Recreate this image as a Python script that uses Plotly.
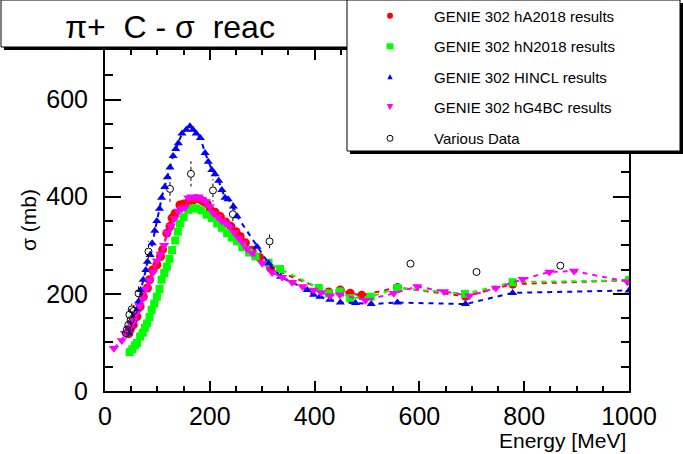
import plotly.graph_objects as go

# ------------------------------------------------------------
# pi+ C reaction cross section: GENIE 302 models vs data

# GENIE 302 hA2018
e_ha = [45, 48, 54, 61, 67, 73, 81, 85, 91, 99, 106, 110, 118, 124, 128, 134, 143, 150,
        160, 168, 175, 182, 188, 195, 201, 210, 220, 230, 240, 250, 258, 268, 280, 295,
        316, 427, 449, 468, 490, 558, 688, 778, 1000]
s_ha = [118, 126, 136, 153, 174, 194, 212, 229, 249, 260, 277, 291, 325, 339, 356, 366, 383, 385,
        390, 393, 396, 394, 390, 385, 373, 368, 359, 348, 339, 328, 318, 305, 290, 275,
        253, 204, 208, 201, 197, 213, 195, 220, 228]

# GENIE 302 hN2018
e_hn = [47, 52, 57, 61, 67, 72, 76, 80, 85, 89, 94, 99, 104, 108, 113, 118, 123, 128, 134,
        139, 143, 150, 159, 167, 175, 184, 194, 204, 214, 223, 233, 242, 252, 262, 275, 287,
        312, 334, 408, 427, 448, 468, 507, 558, 687, 778, 1000]
s_hn = [80, 86, 94, 99, 112, 120, 130, 139, 152, 167, 180, 194, 210, 229, 243, 256, 272, 290, 310,
        328, 345, 358, 373, 376, 376, 372, 363, 356, 345, 336, 325, 316, 308, 296, 285, 277,
        264, 251, 212, 201, 205, 191, 194, 212, 200, 224, 228]

# GENIE 302 HINCL
e_incl = [45, 48, 51, 54, 58, 61, 64, 68, 73, 78, 81, 86, 90, 95, 99, 104, 108, 114, 119, 124,
          130, 135, 140, 147, 155, 162, 168, 174, 182, 191, 197, 204, 210, 217, 223, 229, 235,
          245, 252, 290, 312, 335, 386, 398, 410, 429, 449, 478, 508, 558, 688, 778, 1000]
s_incl = [119, 129, 139, 146, 158, 167, 184, 208, 229, 249, 266, 280, 304, 330, 350, 375, 398, 420, 440, 460,
          484, 498, 510, 530, 538, 545, 538, 530, 521, 490, 472, 455, 446, 433, 414, 398, 395,
          380, 360, 297, 263, 235, 208, 198, 194, 188, 182, 181, 179, 182, 179, 202, 207]

# GENIE 302 hG4BC
e_g4 = [17, 32, 38, 45, 50, 55, 60, 66, 72, 78, 85, 92, 99, 106, 113, 119, 126, 133, 140, 147,
        153, 159, 165, 172, 178, 185, 192, 200, 207, 215, 223, 231, 239, 247, 255, 263, 271,
        281, 300, 319, 338, 357, 377, 398, 412, 429, 448, 497, 551, 596, 647, 695, 746, 797,
        848, 895, 997]
s_g4 = [88, 104, 119, 128, 137, 146, 160, 175, 190, 210, 228, 245, 268, 282, 300, 326, 340, 355, 370, 375,
        378, 398, 400, 398, 400, 395, 390, 380, 366, 358, 350, 345, 339, 326, 315, 305, 293,
        284, 263, 244, 234, 224, 215, 208, 203, 196, 198, 187, 201, 215, 205, 196, 212, 230,
        245, 247, 225]

# Various data (with errors)
e_data = [40, 41.5, 44.6, 46.5, 49, 51, 55, 64, 83, 124, 164, 206, 244, 314, 583, 709, 869]
s_data = [119, 126, 136, 157, 146, 168, 165, 201, 287, 416, 447, 413, 364, 308, 262, 245, 258]
err_data = [10, 10, 10, 12, 10, 12, 12, 16, 22, 27, 26, 23, 24, 18, 0, 0, 0]

legend_labels = ["GENIE 302 hA2018 results", "GENIE 302 hN2018 results",
                 "GENIE 302 HINCL results", "GENIE 302 hG4BC results", "Various Data"]

FONT = "Liberation Sans, Arial, Helvetica, sans-serif"

# frame geometry in pixels (for boxes drawn outside the plot)
L, R, T, B = 105, 629, 50, 391


def px(x):
    return (x - L) / (R - L)


def py(y):
    return (B - y) / (B - T)


fig = go.Figure()

series = [
    (e_ha, s_ha, "#ff0000", "circle", 9),
    (e_hn, s_hn, "#00ff00", "square", 8),
    (e_incl, s_incl, "#0000ff", "triangle-up", 8),
    (e_g4, s_g4, "#ff00ff", "triangle-down", 9),
]
for xs, ys, col, sym, sz in series:
    fig.add_trace(go.Scatter(
        x=xs, y=ys, mode="lines+markers",
        line=dict(color=col, width=2, dash="5px,5px"),
        marker=dict(color=col, symbol=sym, size=sz, line=dict(width=0)),
    ))

# dotted error bars, leaving a gap round the open circle
gap = 8
ex, ey = [], []
for x, y, e in zip(e_data, s_data, err_data):
    if e > gap:
        ex += [x, x, None, x, x, None]
        ey += [y + gap, y + e, None, y - gap, y - e, None]
fig.add_trace(go.Scatter(x=ex, y=ey, mode="lines",
                         line=dict(color="black", width=1, dash="dot")))
fig.add_trace(go.Scatter(x=e_data, y=s_data, mode="markers",
                         marker=dict(symbol="circle-open", size=7, color="black",
                                     line=dict(width=1, color="black"))))

shapes = []
# title box with shadow
shapes.append(dict(type="rect", xref="paper", yref="paper", layer="above",
                   x0=px(4), x1=px(351), y0=py(3), y1=py(50),
                   fillcolor="black", line=dict(width=0)))
shapes.append(dict(type="rect", xref="paper", yref="paper", layer="above",
                   x0=px(1), x1=px(348), y0=py(0), y1=py(47),
                   fillcolor="white", line=dict(color="black", width=1)))
# legend box with shadow
shapes.append(dict(type="rect", xref="paper", yref="paper", layer="above",
                   x0=px(350), x1=px(683), y0=py(3), y1=py(154),
                   fillcolor="black", line=dict(width=0)))
shapes.append(dict(type="rect", xref="paper", yref="paper", layer="above",
                   x0=px(347), x1=px(680), y0=py(0), y1=py(151),
                   fillcolor="white", line=dict(color="black", width=1)))

# legend symbols
rows = [15.8, 46.3, 76.8, 107.0, 138.3]
mx = 390
shapes.append(dict(type="circle", xref="paper", yref="paper", layer="above",
                   x0=px(mx - 3), x1=px(mx + 3), y0=py(rows[0] - 3), y1=py(rows[0] + 3),
                   fillcolor="#ff0000", line=dict(width=0)))
shapes.append(dict(type="rect", xref="paper", yref="paper", layer="above",
                   x0=px(mx - 3.5), x1=px(mx + 3.5), y0=py(rows[1] - 3), y1=py(rows[1] + 3),
                   fillcolor="#00ff00", line=dict(width=0)))
shapes.append(dict(type="path", xref="paper", yref="paper", layer="above",
                   path="M {} {} L {} {} L {} {} Z".format(px(mx - 2.7), py(rows[2] + 2.5),
                                                        px(mx + 2.7), py(rows[2] + 2.5),
                                                        px(mx), py(rows[2] - 2.8)),
                   fillcolor="#0000ff", line=dict(width=0)))
shapes.append(dict(type="path", xref="paper", yref="paper", layer="above",
                   path="M {} {} L {} {} L {} {} Z".format(px(mx - 3.2), py(rows[3] - 3),
                                                        px(mx + 3.2), py(rows[3] - 3),
                                                        px(mx), py(rows[3] + 3.3)),
                   fillcolor="#ff00ff", line=dict(width=0)))
shapes.append(dict(type="circle", xref="paper", yref="paper", layer="above",
                   x0=px(mx - 3), x1=px(mx + 3), y0=py(rows[4] - 3), y1=py(rows[4] + 3),
                   fillcolor="white", line=dict(color="black", width=1)))

annotations = []
for lab, ry in zip(legend_labels, rows):
    annotations.append(dict(text=lab, xref="paper", yref="paper", x=px(432), y=py(ry + 0.5),
                            xanchor="left", yanchor="middle", showarrow=False,
                            font=dict(size=15, family=FONT, color="black")))

annotations.append(dict(text="\u03c0+\u00a0\u00a0C\u00a0-\u00a0\u03c3\u00a0\u00a0reac",
                        xref="paper", yref="paper", x=px(170), y=py(27),
                        xanchor="center", yanchor="middle", showarrow=False,
                        font=dict(size=32, family=FONT, color="black")))
annotations.append(dict(text="Energy [MeV]", xref="paper", yref="paper", x=px(628), y=py(440),
                        xanchor="right", yanchor="middle", showarrow=False,
                        font=dict(size=21, family=FONT, color="black")))
annotations.append(dict(text="\u03c3 (mb)", xref="paper", yref="paper", x=px(28), y=py(220),
                        xanchor="center", yanchor="middle", showarrow=False, textangle=-90,
                        font=dict(size=21, family=FONT, color="black")))

fig.update_layout(
    width=683, height=454,
    margin=dict(l=L, r=683 - R, t=T, b=454 - B),
    paper_bgcolor="white", plot_bgcolor="white",
    showlegend=False,
    font=dict(family=FONT, color="black"),
    shapes=shapes, annotations=annotations,
)
fig.update_xaxes(
    range=[0, 1000], tickvals=[0, 200, 400, 600, 800, 1000],
    ticks="inside", ticklen=10, tickwidth=2, tickcolor="black",
    showline=True, linewidth=2, linecolor="black", mirror="ticks",
    showgrid=False, zeroline=False, tickfont=dict(size=25),
    ticklabelstandoff=2,
    minor=dict(ticks="inside", ticklen=5, tickwidth=2, tickcolor="black", dtick=50, tick0=0,
               showgrid=False),
)
fig.update_yaxes(
    range=[0, 702], tickvals=[0, 200, 400, 600],
    ticks="inside", ticklen=16, tickwidth=2, tickcolor="black",
    showline=True, linewidth=2, linecolor="black", mirror="ticks",
    showgrid=False, zeroline=False, tickfont=dict(size=25),
    ticklabelstandoff=10,
    minor=dict(ticks="inside", ticklen=8, tickwidth=2, tickcolor="black", dtick=50, tick0=0,
               showgrid=False),
)

# the page body has a default 8px margin; drop it so the figure sits at the corner
fig.write_html("out.html", config={"displayModeBar": False},
               post_script="document.body.style.margin = '0';")
